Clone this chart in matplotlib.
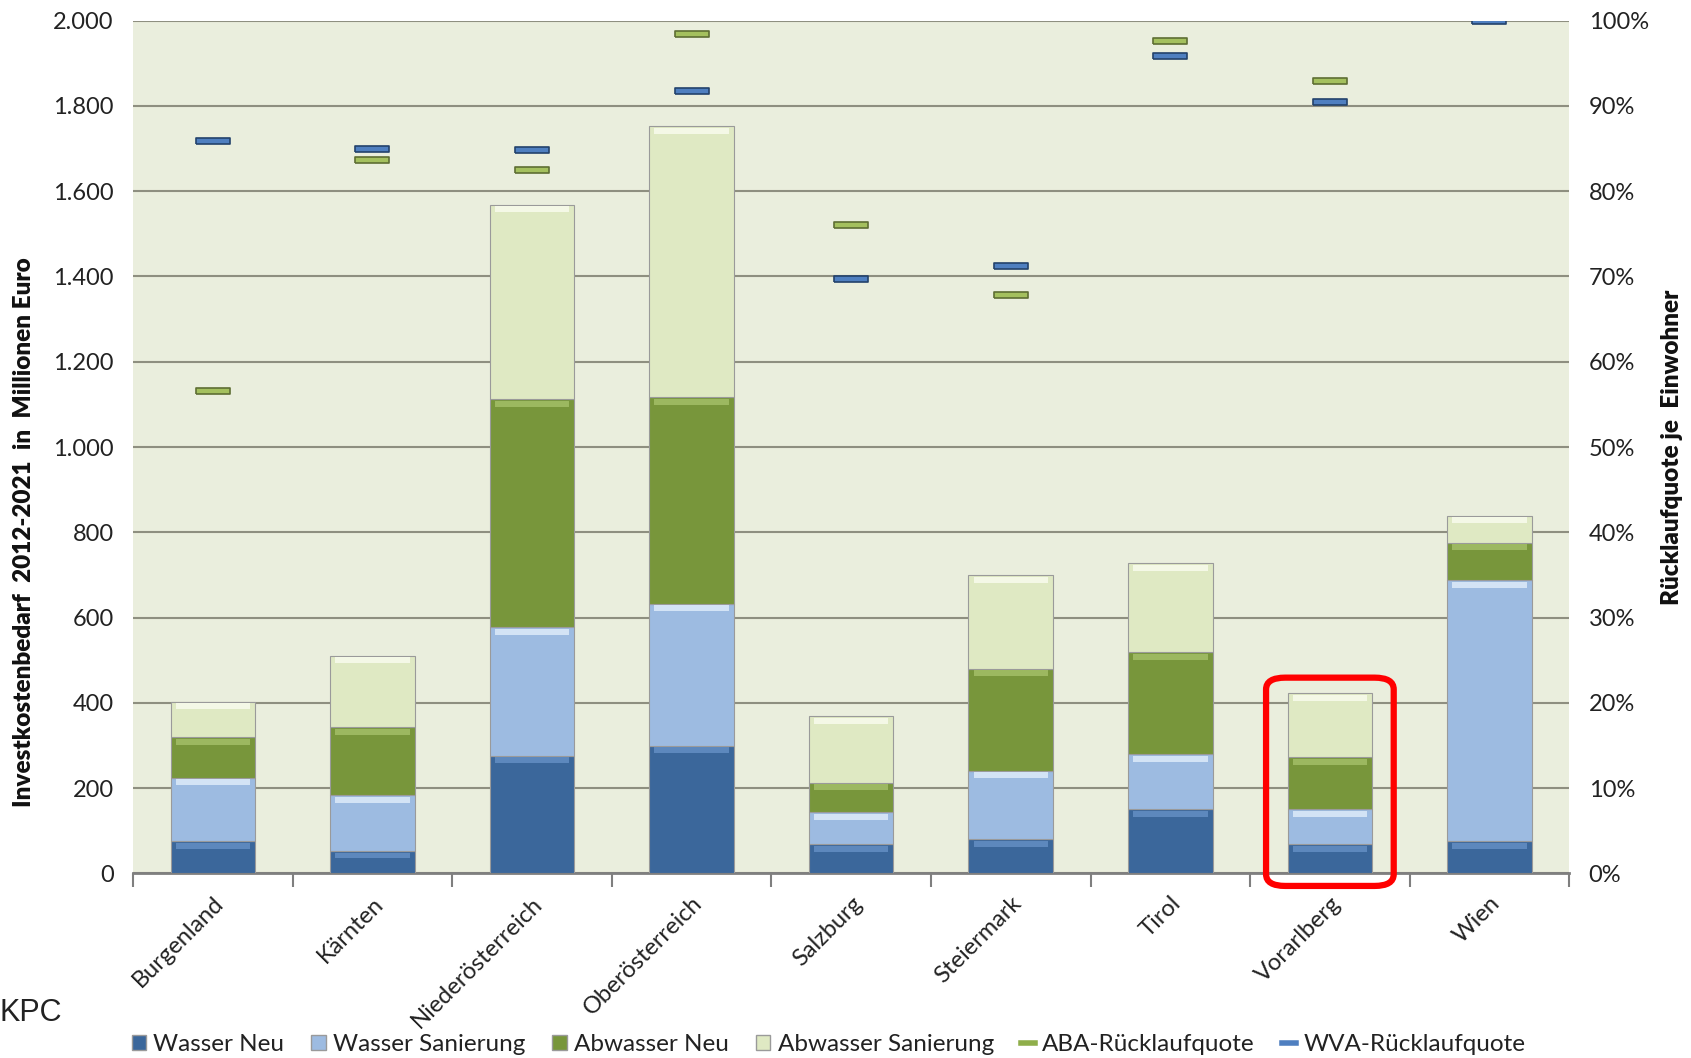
import numpy as np
import matplotlib.pyplot as plt
from matplotlib.patches import FancyBboxPatch
from matplotlib.lines import Line2D
from matplotlib.patches import Patch
import matplotlib.ticker as mticker

plt.rcParams['font.family'] = ['Lato', 'DejaVu Sans']

laender = ['Burgenland', 'Kärnten', 'Niederösterreich', 'Oberösterreich', 'Salzburg',
           'Steiermark', 'Tirol', 'Vorarlberg', 'Wien']

# Mio. Euro, Investkostenbedarf 2012-2021
wasser_neu = [76, 53, 276, 300, 68, 80, 151, 68, 76]
wasser_san = [149, 131, 302, 333, 75, 161, 129, 83, 612]
abwasser_neu = [94, 159, 534, 484, 70, 239, 239, 121, 88]
abwasser_san = [84, 168, 456, 635, 156, 220, 209, 151, 63]

# Rücklaufquote in %
aba_quote = [56.6, 83.7, 82.5, 98.4, 76.0, 67.8, 97.6, 92.9, np.nan]
wva_quote = [85.9, 84.9, 84.8, 91.7, 69.7, 71.2, 95.8, 90.5, 100.0]

series = [
    ('Wasser Neu', wasser_neu, '#3B679B', '#5D88BD'),
    ('Wasser Sanierung', wasser_san, '#9DBBE1', '#D3E3F5'),
    ('Abwasser Neu', abwasser_neu, '#78963B', '#9CB860'),
    ('Abwasser Sanierung', abwasser_san, '#DFE9C3', '#F4F8E6'),
]

fig = plt.figure(figsize=(16.91, 10.58), dpi=100)
ax = fig.add_axes([0.0787, 0.1744, 0.8493, 0.8062])
ax.set_facecolor('#EAEEDD')

x = np.arange(len(laender))
w = 0.53
bottom = np.zeros(len(laender))
for name, vals, col, light in series:
    vals = np.array(vals, dtype=float)
    ax.bar(x, vals, w, bottom=bottom, color=col, edgecolor='#9A9A9A', linewidth=0.8, zorder=3)
    # bevel highlight at top of each segment
    band = np.minimum(vals * 0.25, 14)
    ax.bar(x, band, w * 0.88, bottom=bottom + vals - band - 4, color=light, linewidth=0, zorder=4)
    bottom += vals

ax.set_xlim(-0.5, len(laender) - 0.5)
ax.set_ylim(0, 2000)
ax.yaxis.set_major_locator(mticker.MultipleLocator(200))
ax.yaxis.set_major_formatter(mticker.FuncFormatter(lambda v, p: f'{int(v):,}'.replace(',', '.')))
ax.grid(axis='y', color='#8E8F80', linewidth=1.5, zorder=1)
ax.set_axisbelow(True)
ax.tick_params(axis='y', length=0, labelsize=17, labelcolor='#222222', pad=14)
ax.set_xticks(x)
ax.set_xticklabels(laender, rotation=45, ha='right', rotation_mode='anchor', fontsize=17,
                   color='#222222')
ax.tick_params(axis='x', length=0, pad=14)
ax.set_xticks(np.arange(-0.5, len(laender)), minor=True)
ax.tick_params(axis='x', which='minor', length=10, width=1.5, color='#7F7F7F', direction='out')
for s in ['top', 'left', 'right']:
    ax.spines[s].set_visible(False)
ax.spines['bottom'].set_color('#7F7F7F')
ax.spines['bottom'].set_linewidth(2)
ax.set_ylabel('Investkostenbedarf  2012-2021  in  Millionen Euro', fontsize=17.5,
              fontweight='heavy', color='#111111')
ax.yaxis.set_label_coords(-0.068, 0.40)

ax2 = ax.twinx()
ax2.set_ylim(0, 100)
ax2.yaxis.set_major_locator(mticker.MultipleLocator(10))
ax2.yaxis.set_major_formatter(mticker.FuncFormatter(lambda v, p: f'{int(v)}%'))
ax2.tick_params(axis='y', length=0, labelsize=17, labelcolor='#222222', pad=14)
for s in ['top', 'left', 'right', 'bottom']:
    ax2.spines[s].set_visible(False)
ax2.set_ylabel('Rücklaufquote je  Einwohner', fontsize=17.5, fontweight='heavy', color='#111111')
ax2.yaxis.set_label_coords(1.064, 0.5)

dash = [(-2.5, -0.5), (2.5, -0.5), (2.5, 0.5), (-2.5, 0.5), (-2.5, -0.5)]
ax2.plot(x, aba_quote, linestyle='none', marker=dash, markersize=24, markerfacecolor='#A4C05E',
         markeredgecolor='#5E6E33', markeredgewidth=1.2, zorder=5)
ax2.plot(x, wva_quote, linestyle='none', marker=dash, markersize=24, markerfacecolor='#4F7FC0',
         markeredgecolor='#23426B', markeredgewidth=1.2, zorder=5)

# red highlight around Vorarlberg
vi = laender.index('Vorarlberg')
box = FancyBboxPatch((vi - 0.36, -20), 0.72, 470, boxstyle='round,pad=0.04,rounding_size=0.12',
                     mutation_aspect=230, fill=False, edgecolor='#FF0000', linewidth=4.5,
                     clip_on=False, zorder=6, transform=ax.transData)
ax.add_patch(box)

handles = [Patch(facecolor=c, edgecolor='#9A9A9A') for _, _, c, _ in series]
handles += [Line2D([], [], color='#8FAE4A', linewidth=4), Line2D([], [], color='#4F7FC0', linewidth=4)]
labels = [s[0] for s in series] + ['ABA-Rücklaufquote', 'WVA-Rücklaufquote']
fig.legend(handles, labels, loc='center', bbox_to_anchor=(0.49, 0.0125), ncol=6, frameon=False,
           fontsize=17.5, handlelength=0.6, handleheight=0.6, handletextpad=0.3, columnspacing=1.1,
           labelcolor='#222222')

fig.text(0.0, 0.043, 'KPC', fontsize=22, family='Liberation Sans', color='#222222',
         va='center', ha='left')

fig.savefig('out.png', dpi=100)
